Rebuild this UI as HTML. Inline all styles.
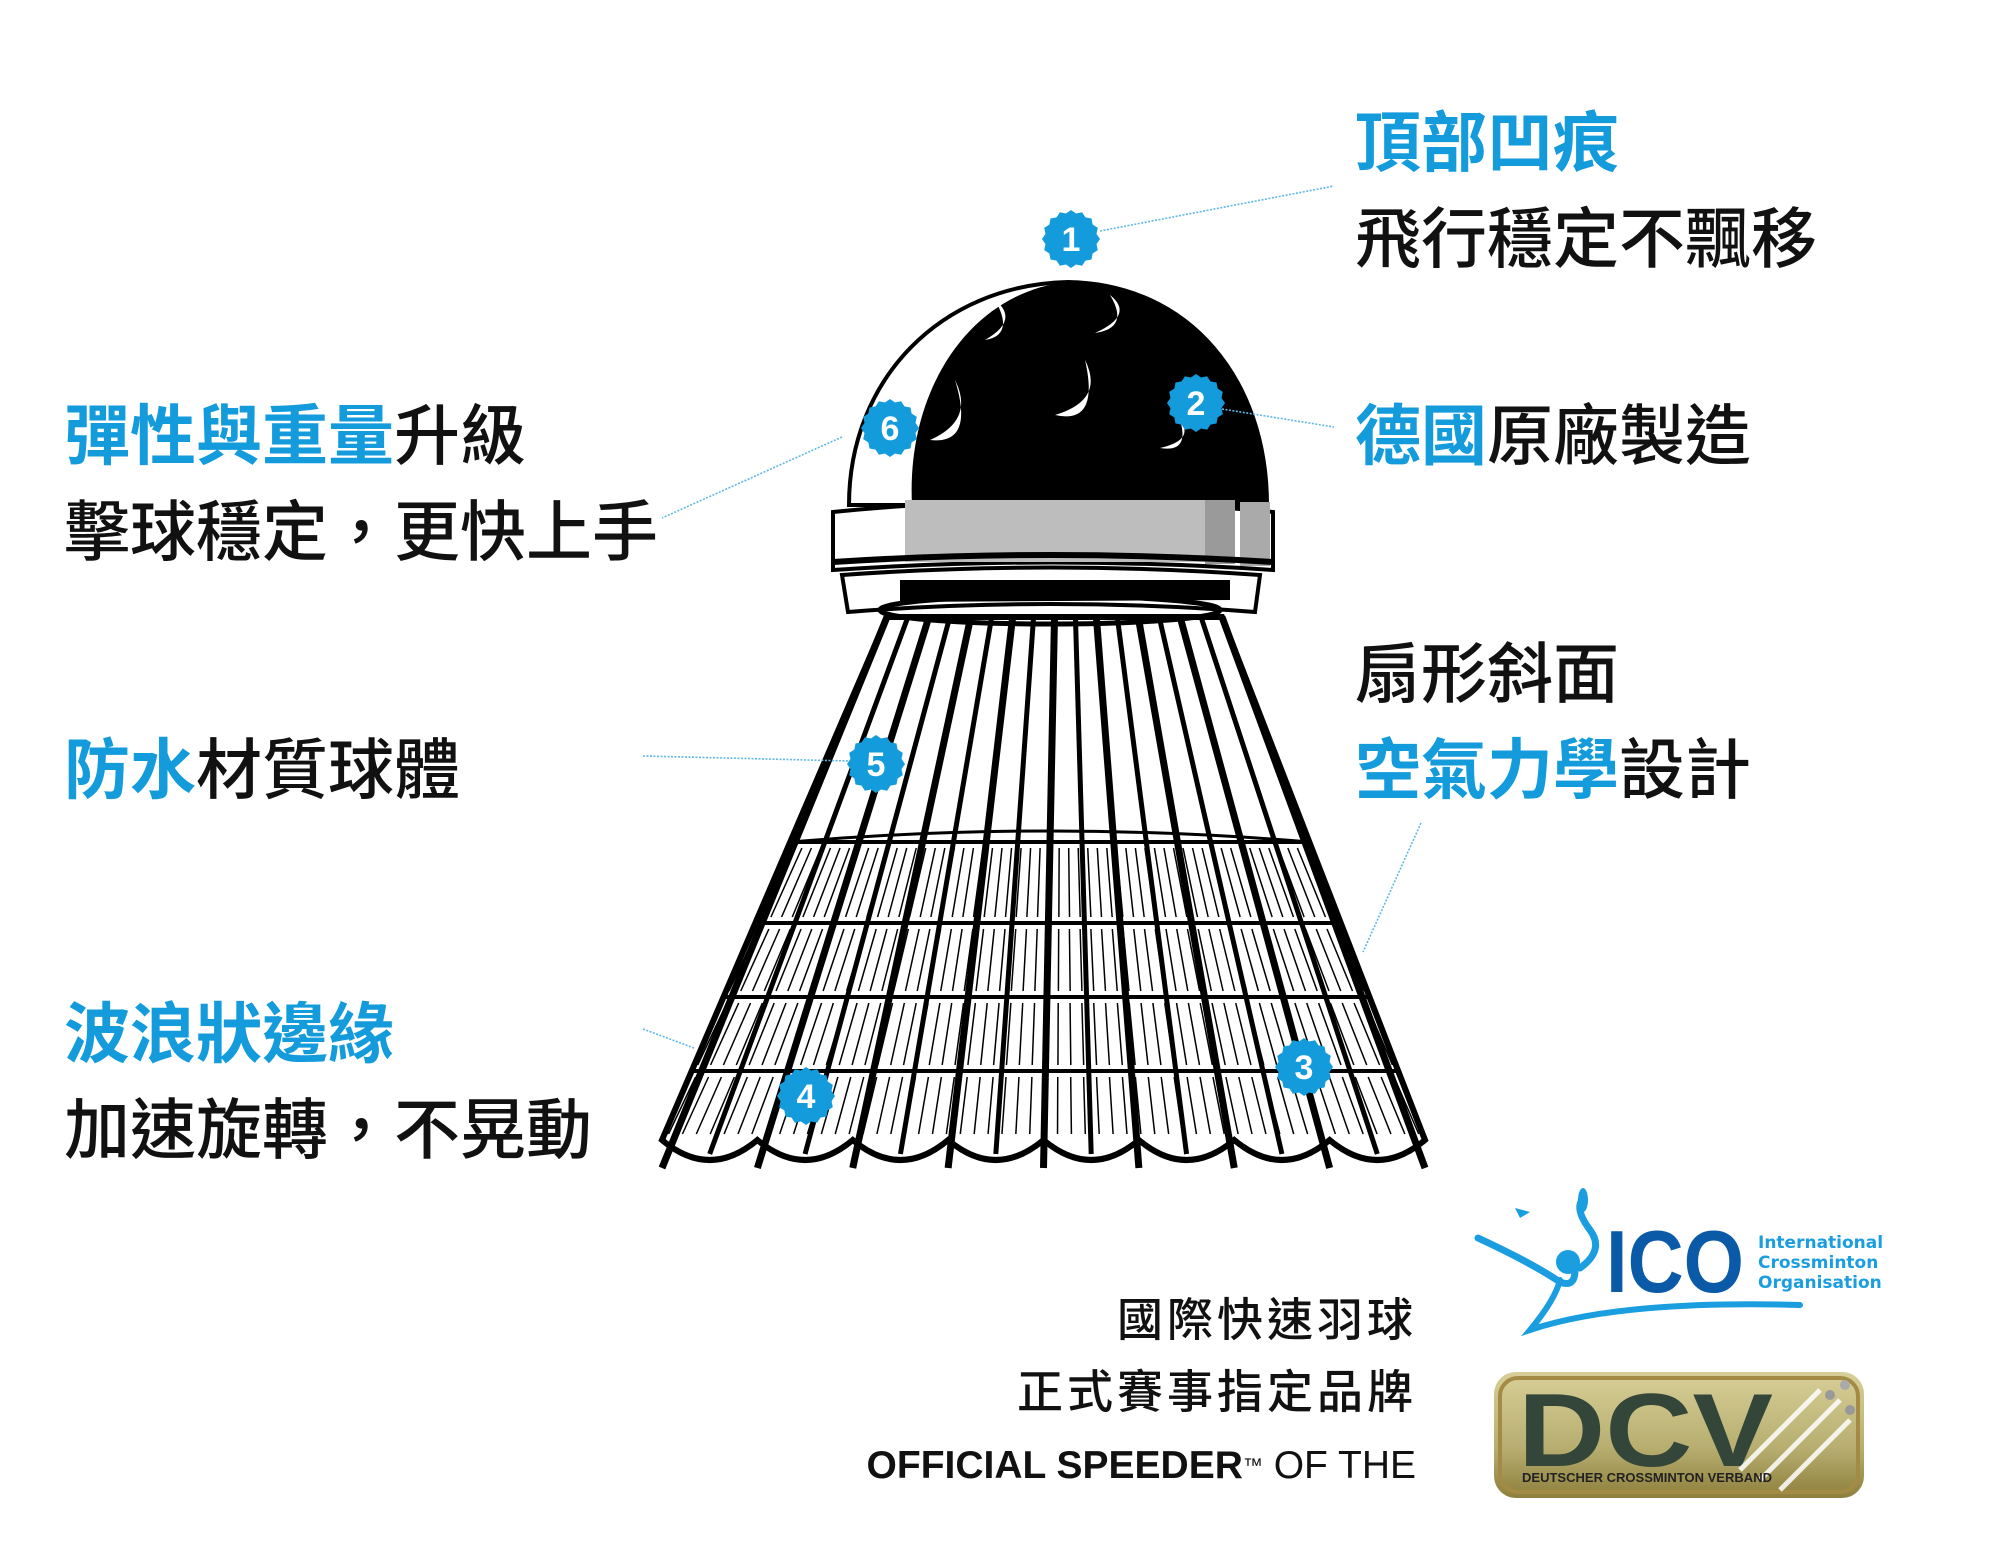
<!DOCTYPE html>
<html><head><meta charset="utf-8">
<style>
html,body{margin:0;padding:0;background:#fff;}
body{width:2001px;height:1548px;position:relative;overflow:hidden;font-family:"Liberation Sans","Noto Sans CJK TC",sans-serif;}
.t{position:absolute;font-size:66px;line-height:66px;white-space:nowrap;color:#111;font-weight:500;}
.b{color:#139bdc;font-weight:700;}
.s{position:absolute;font-size:46px;line-height:46px;white-space:nowrap;color:#111;letter-spacing:4px;font-weight:500;}
svg{position:absolute;left:0;top:0;}
</style></head><body>
<svg id="sv" width="2001" height="1548" viewBox="0 0 2001 1548">
<g id="skirt"></g>
<!-- dome -->
<path d="M849,505 C849,380 940,285 1068,282 C1190,284 1267,380 1267,505 Z" fill="#fff" stroke="#000" stroke-width="4"/>
<path d="M912,505 C906,390 970,292 1068,282 C1190,284 1267,380 1267,505 Z" fill="#000"/>
<g fill="#fff">
<path d="M995,300 q25,20 -10,40 q30,-5 10,-40z"/>
<path d="M1110,295 q25,20 -15,38 q35,-5 15,-38z"/>
<path d="M955,380 q20,40 -25,60 q45,5 25,-60z"/>
<path d="M1085,360 q20,40 -30,55 q45,10 30,-55z"/>
<path d="M1180,420 q15,20 -20,28 q30,5 20,-28z"/>
<path d="M905,420 q10,25 -15,40 q30,-5 15,-40z"/>
</g>
<!-- band -->
<path d="M833,512 Q1050,490 1273,512 L1273,570 Q1050,555 833,570 Z" fill="#fff" stroke="#000" stroke-width="4"/>
<rect x="905" y="500" width="300" height="62" fill="#bdbdbd"/>
<rect x="1205" y="500" width="30" height="64" fill="#9a9a9a"/>
<rect x="1240" y="502" width="30" height="64" fill="#aaa"/>
<path d="M833,562 Q1050,548 1273,562" fill="none" stroke="#000" stroke-width="6"/>
<path d="M842,575 Q1050,560 1260,575 L1255,612 Q1050,596 848,612 Z" fill="#fff" stroke="#000" stroke-width="4"/>
<path d="M900,580 L1230,580 L1230,600 L900,602 Z" fill="#000"/>
<ellipse cx="1050" cy="610" rx="170" ry="14" fill="none" stroke="#000" stroke-width="5"/>
<!-- connectors -->
<g stroke="#5fb8e6" stroke-width="1.6" stroke-dasharray="2,1.5" fill="none">
<line x1="1100" y1="231" x2="1334" y2="186"/>
<line x1="1222" y1="409" x2="1334" y2="427"/>
<line x1="842" y1="437" x2="662" y2="518"/>
<line x1="643" y1="756" x2="849" y2="761"/>
<line x1="643" y1="1029" x2="694" y2="1048"/>
<line x1="1421" y1="823" x2="1363" y2="952"/>
</g>
<g id="badges"></g>
<!-- ICO logo -->
<g>
<path d="M1478,1238 Q1530,1262 1560,1282 Q1575,1288 1575,1270" fill="none" stroke="#1a9ee0" stroke-width="7" stroke-linecap="round"/>
<circle cx="1568" cy="1262" r="12" fill="#1a9ee0"/>
<path d="M1580,1268 Q1605,1250 1590,1230 Q1575,1210 1582,1200" fill="none" stroke="#1a9ee0" stroke-width="7" stroke-linecap="round"/>
<ellipse cx="1583" cy="1200" rx="5" ry="12" fill="#1a9ee0"/>
<path d="M1515,1208 l15,4 l-10,6z" fill="#1a9ee0"/>
<path d="M1560,1280 Q1555,1300 1530,1330 Q1620,1300 1800,1305" fill="none" stroke="#1a9ee0" stroke-width="6" stroke-linecap="round"/>
<text x="1606" y="1292" font-family="Liberation Sans" font-weight="700" font-size="88" fill="#0a5aa8" textLength="138" lengthAdjust="spacingAndGlyphs">ICO</text>
<g font-family="DejaVu Sans" font-weight="700" font-size="17" fill="#1a9ee0">
<text x="1758" y="1248">International</text>
<text x="1758" y="1268">Crossminton</text>
<text x="1758" y="1288">Organisation</text>
</g>
</g>
<!-- DCV -->
<defs><linearGradient id="dg" x1="0" y1="0" x2="0" y2="1"><stop offset="0" stop-color="#d8cf98"/><stop offset="0.6" stop-color="#b7ae70"/><stop offset="1" stop-color="#8e7f3c"/></linearGradient></defs>
<rect x="1494" y="1372" width="370" height="126" rx="22" fill="url(#dg)"/>
<rect x="1500" y="1378" width="358" height="114" rx="18" fill="none" stroke="#a38a45" stroke-width="4"/>
<text x="1518" y="1466" font-family="Liberation Sans" font-weight="700" font-size="104" fill="#34463a" textLength="255" lengthAdjust="spacingAndGlyphs">DCV</text>
<g stroke="#fff" stroke-width="5" opacity="0.85"><line x1="1760" y1="1480" x2="1840" y2="1400"/><line x1="1780" y1="1490" x2="1850" y2="1420"/><line x1="1740" y1="1470" x2="1820" y2="1390"/></g>
<circle cx="1830" cy="1395" r="5" fill="#999"/><circle cx="1850" cy="1410" r="5" fill="#999"/><circle cx="1845" cy="1385" r="5" fill="#aaa"/>
<text x="1522" y="1482" font-family="Liberation Sans" font-weight="700" font-size="13" fill="#222" textLength="250" lengthAdjust="spacingAndGlyphs">DEUTSCHER CROSSMINTON VERBAND</text>
</svg>

<div class="t b" style="left:1355px;top:110px;">頂部凹痕</div>
<div class="t" style="left:1355px;top:206px;">飛行穩定不飄移</div>
<div class="t" style="left:1355px;top:403px;"><span class="b">德國</span>原廠製造</div>
<div class="t" style="left:1355px;top:641px;">扇形斜面</div>
<div class="t" style="left:1355px;top:737px;"><span class="b">空氣力學</span>設計</div>
<div class="t" style="left:64px;top:403px;"><span class="b">彈性與重量</span>升級</div>
<div class="t" style="left:64px;top:499px;">擊球穩定，更快上手</div>
<div class="t" style="left:64px;top:737px;"><span class="b">防水</span>材質球體</div>
<div class="t b" style="left:64px;top:1001px;">波浪狀邊緣</div>
<div class="t" style="left:64px;top:1097px;">加速旋轉，不晃動</div>
<div class="s" style="right:584px;top:1297px;">國際快速羽球</div>
<div class="s" style="right:584px;top:1369px;">正式賽事指定品牌</div>
<div style="position:absolute;right:585px;top:1446px;font-size:39px;line-height:40px;white-space:nowrap;color:#111;"><b>OFFICIAL SPEEDER</b><span style="font-size:20px;vertical-align:top;">™</span> OF THE</div>

<script>
var NS="http://www.w3.org/2000/svg";
function el(p,n,a){var e=document.createElementNS(NS,n);for(var k in a)e.setAttribute(k,a[k]);p.appendChild(e);return e;}
var g=document.getElementById('skirt');
var tx0=887,tx1=1222,ty=617,bx0=662,bx1=1425,by=1140;
function X(f,y){var t=(y-ty)/(by-ty);var l=tx0+(bx0-tx0)*t,r=tx1+(bx1-tx1)*t;return l+(r-l)*f;}
var N=16;
var d="M"+bx0+","+by;
var lobes=8;
for(var i=0;i<lobes;i++){var xa=bx0+(bx1-bx0)*i/lobes,xb=bx0+(bx1-bx0)*(i+1)/lobes;d+=" Q"+((xa+xb)/2)+","+(by+40)+" "+xb+","+by;}
d+=" L"+tx1+","+ty+" L"+tx0+","+ty+" Z";
el(g,'path',{d:d,fill:'#fff',stroke:'#000','stroke-width':6});
var levels=[842,923,997,1071,1140];
for(var L=0;L<4;L++){var y0=levels[L]+6,y1=levels[L+1]-6;
 for(var k=0;k<55;k++){var f=(k+0.5)/55;
  el(g,'line',{x1:X(f,y0),y1:y0,x2:X(f,y1)+(f-0.5)*6,y2:y1,stroke:'#000','stroke-width':1.5});}}
el(g,'path',{d:"M"+X(0,842)+",842 Q"+X(0.5,842)+",820 "+X(1,842)+",842",fill:'none',stroke:'#000','stroke-width':3});
for(var L=0;L<4;L++){var y=levels[L];
 el(g,'line',{x1:X(0,y),y1:y,x2:X(1,y),y2:y,stroke:'#000','stroke-width':4});}
for(var i=0;i<=N;i++){var f=i/N;
 el(g,'line',{x1:X(f,ty),y1:ty,x2:X(f,by),y2:by+(i%2?14:28),stroke:'#000','stroke-width':(i%2?5:7)});}
var bg=document.getElementById('badges');
var B=[[1,1071,239],[2,1196,403],[6,890,428],[5,876,764],[4,806,1096],[3,1304,1067]];
B.forEach(function(b){
 var pts="";for(var j=0;j<32;j++){var a=j*Math.PI/16,r=(j%2?26:29);pts+=(b[1]+r*Math.cos(a))+","+(b[2]+r*Math.sin(a))+" ";}
 el(bg,'polygon',{points:pts,fill:'#139bdc'});
 var t=el(bg,'text',{x:b[1],y:b[2]+12,'text-anchor':'middle','font-family':'Liberation Sans','font-weight':'700','font-size':34,fill:'#fff'});t.textContent=b[0];
});
</script>
</body></html>
